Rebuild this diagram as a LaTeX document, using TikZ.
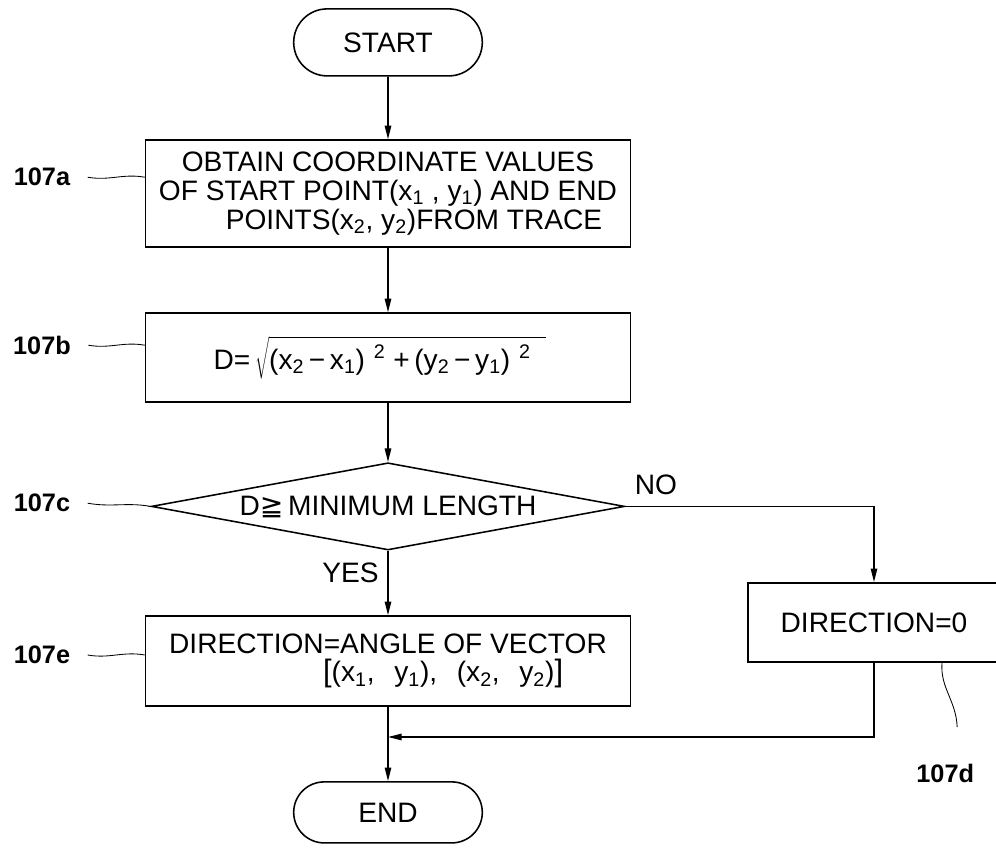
\documentclass[tikz,border=0pt]{standalone}
\usepackage{fontspec}
\setmainfont{Liberation Sans}
\newfontfamily\geqfont{DejaVu Sans}
\usetikzlibrary{shapes.geometric,shapes.misc,arrows.meta}

\begin{document}
\begin{tikzpicture}[line width=1.1pt, font=\fontsize{20}{20.3}\selectfont]
  \tikzstyle{process} = [rectangle, draw, minimum width=12.125cm, inner sep=2pt, align=center]
  \tikzstyle{terminal} = [rounded rectangle, draw, minimum width=4.95cm, minimum height=1.6cm]
  \tikzstyle{decision} = [diamond, draw, aspect=5.43, inner sep=0pt, minimum width=11.83cm, minimum height=2.18cm]
  \tikzstyle{flow} = [-{Triangle[length=0.34cm, width=0.16cm]}]
  \tikzstyle{tag} = [font=\bfseries\fontsize{18}{20}\selectfont]
  \tikzstyle{leader} = [line width=0.6pt]

  \useasboundingbox (0,0) rectangle (24.9,-21.2);
  \clip (0,0) rectangle (24.9,-21.2);

  % Draw steps
  \node[terminal, minimum height=1.675cm] (start) at (9.7,-1.06) {START};
  \node[process, minimum height=2.675cm] (box_a) at (9.7,-4.84)
    {OBTAIN COORDINATE VALUES\\
     OF START POINT(x\textsubscript{1} , y\textsubscript{1}) AND END\\
     \hspace*{1.3cm}POINTS(x\textsubscript{2}, y\textsubscript{2})FROM TRACE};
  \node[process, minimum height=2.225cm] (box_b) at (9.7,-8.94)
    {D=\,$\sqrt{\rule[-0.35em]{0pt}{1.45em}\mbox{(x\textsubscript{2}\,−\,x\textsubscript{1})\textsuperscript{\;\,2}\;+\,(y\textsubscript{2}\,−\,y\textsubscript{1})\textsuperscript{\;\,2}\;\;}}$\hspace*{0.4cm}};
  \node[decision] (test) at (9.7,-12.66) {D{\geqfont ≧}\,MINIMUM LENGTH};
  \node[process, minimum height=2.25cm, align=left] (box_e) at (9.7,-16.525)
    {DIRECTION=ANGLE OF VECTOR\\
     \hspace*{3.85cm}{\fontsize{22}{20.3}\selectfont[}(x\textsubscript{1},\hspace{0.7em}y\textsubscript{1}),\hspace{0.7em}(x\textsubscript{2},\hspace{0.7em}y\textsubscript{2}){\fontsize{22}{20.3}\selectfont]}};
  \node[process, minimum width=6.3cm, minimum height=1.975cm] (box_d) at (21.85,-15.56) {DIRECTION=0};
  \node[terminal, minimum height=1.525cm] (end) at (9.7,-20.31) {END};

  % Branch labels
  \node (no) at (16.4,-12.125) {NO};
  \node[anchor=east] (yes) at (9.6,-14.33) {YES};

  % Connections
  \draw[flow] (start) -- (box_a);
  \draw[flow] (box_a) -- (box_b);
  \draw[flow] (box_b) -- (test);
  \draw[flow] (test) -- (box_e);
  \draw[flow] (box_e) -- (end);
  \draw[flow] (test.east) -| (box_d.north);
  \coordinate (merge) at (9.7,-18.425);
  \draw[flow] (box_d.south) |- (merge);

  % Reference numerals
  \foreach \tag/\ypos/\target in {107a/4.43/box_a, 107b/8.63/box_b, 107e/16.375/box_e}
    {
    \node[tag] (lbl-\tag) at (1.05,-\ypos) {\tag};
    \draw[leader] ([xshift=0.3cm]lbl-\tag.east) to[out=-10, in=170] (lbl-\tag.east -| \target.west);
    }
  \node[tag] (lbl-107c) at (1.05,-12.58) {107c};
  \draw[leader] ([xshift=0.3cm]lbl-107c.east) to[out=-10, in=170] (test.west);

  \node[tag] (lbl-107d) at (23.63,-19.33) {107d};
  \coordinate (d_end) at (23.93,-18.18);
  \draw[leader] (d_end) .. controls (23.9,-17.5) and (23.5,-17.2) .. ([xshift=1.7cm]box_d.south);

\end{tikzpicture}
\end{document}
